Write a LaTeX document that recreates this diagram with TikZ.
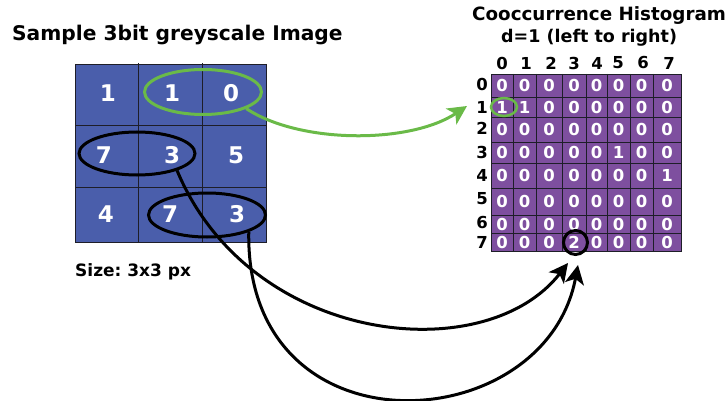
\documentclass[tikz,border=0pt]{standalone}
\usepackage{fontspec}
\setmainfont{DejaVu Sans}
\usetikzlibrary{shapes.geometric,arrows.meta}
\definecolor{pixblue}{RGB}{74,94,171}
\definecolor{histpurple}{RGB}{126,79,159}
\definecolor{markgreen}{RGB}{106,186,72}
\definecolor{gridline}{RGB}{30,30,40}
\frenchspacing

\begin{document}
\begin{tikzpicture}[x=1pt,y=-1pt,
  heading/.style={font=\bfseries\fontsize{20.2}{20.2}\selectfont, inner sep=0, anchor=base west},
  subheading/.style={font=\bfseries\fontsize{17.5}{17.5}\selectfont, inner sep=0, anchor=base west},
  pix/.style={text=white, font=\bfseries\fontsize{23}{23}\selectfont, inner sep=0},
  hval/.style={text=white, font=\bfseries\fontsize{16.5}{16.5}\selectfont, inner sep=0},
  hlab/.style={font=\bfseries\fontsize{16.5}{16.5}\selectfont, inner sep=0},
  pairmark/.style={ellipse, draw, line width=3pt, inner sep=0},
  link/.style={line width=3pt, -{Stealth[length=19pt,width=19pt,inset=5pt]}},
]
\useasboundingbox (0,0) rectangle (728,401);

% ---- sample image ----
\node[heading] (imgtitle) at (12,41) {Sample 3bit greyscale Image};
\fill[pixblue] (75,65) rectangle (266,242);
\draw[gridline, line width=1pt] (75,65) rectangle (266,242);
\draw[gridline, line width=1pt] (138,63) -- (138,243) (202,63) -- (202,243)
  (75,126) -- (267,126) (75,187) -- (266,187);

\node[pix] (p11) at (108,93)  {1};
\node[pix] (p12) at (172,93)  {1};
\node[pix] (p13) at (231,93)  {0};
\node[pix] (p21) at (104,155) {7};
\node[pix] (p22) at (172,155) {3};
\node[pix] (p23) at (236,155) {5};
\node[pix] (p31) at (106,214) {4};
\node[pix] (p32) at (170,214) {7};
\node[pix] (p33) at (237,214) {3};

\node[font=\bfseries\fontsize{17}{17}\selectfont, inner sep=0, anchor=base west] (size) at (75,276) {Size: 3x3 px};

% pixel pairs
\node[pairmark, draw=markgreen, minimum width=117pt, minimum height=45pt] (pairG) at (203,92) {};
\node[pairmark, minimum width=116pt, minimum height=43pt] (pairA) at (137,153.5) {};
\node[pairmark, minimum width=117pt, minimum height=44pt] (pairB) at (207,215) {};

% ---- histogram ----
\node[heading, font=\bfseries\fontsize{18.3}{18.3}\selectfont] (htitle) at (472,21) {Cooccurrence Histogram};
\node[subheading] (hsub) at (501,43) {d=1 (left to right)};

\fill[histpurple] (491,74) rectangle (681,251);
\draw[gridline, line width=0.8pt] (491,74) rectangle (681,251);
\foreach \gx in {513,536,562,586,607,630,653}
  \draw[gridline, line width=0.8pt] (\gx,74) -- (\gx,251);
\foreach \gy in {97,117,142,163,188,215,233}
  \draw[gridline, line width=0.8pt] (491,\gy) -- (681,\gy);

% column and row labels
\foreach \lx [count=\c from 0] in {502,526,551,574,597,618,643,669}
  \node[hlab] (col\c) at (\lx,63) {\c};
\foreach \ly [count=\r from 0] in {84,107,128,152,175,199,223,242}
  \node[hlab] (row\r) at (482,\ly) {\r};

% counts
\foreach \r/\yc/\vals in {
  0/85.5/{0,0,0,0,0,0,0,0},
  1/107/{1,1,0,0,0,0,0,0},
  2/129.5/{0,0,0,0,0,0,0,0},
  3/152.5/{0,0,0,0,0,1,0,0},
  4/175.5/{0,0,0,0,0,0,0,1},
  5/201.5/{0,0,0,0,0,0,0,0},
  6/224/{0,0,0,0,0,0,0,0},
  7/242/{0,0,0,2,0,0,0,0}}{
  \foreach \v [count=\c from 0] in \vals {
    \pgfmathsetmacro\xc{{502,524.5,549,574,596.5,618.5,641.5,667}[\c]}
    \node[hval] (h\r\c) at (\xc,\yc) {\v};
  }
}

\node[ellipse, draw=markgreen, line width=2.5pt, minimum width=26pt, minimum height=18pt, inner sep=0] (hitG) at (504,107) {};
\node[circle, draw, line width=3pt, minimum size=24pt, inner sep=0] (hitB) at (575.5,242.5) {};

% ---- connectors ----
\coordinate (tipG) at (467,106);
\coordinate (tipA) at (568,263);
\coordinate (tipB) at (578,265);

\draw[link, markgreen] (pairG.-21) .. controls (300,144) and (410,144) .. (tipG);
\draw[link] (pairA.-23) .. controls (250,345) and (485,370) .. (tipA);
\draw[link] (pairB.-22) .. controls (245,458) and (545,440) .. (tipB);

\end{tikzpicture}
\end{document}
